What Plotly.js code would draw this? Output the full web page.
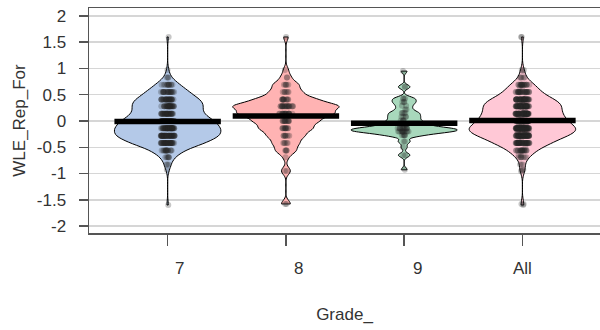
<!DOCTYPE html>
<html><head><meta charset="utf-8">
<script src="https://cdn.plot.ly/plotly-3.0.1.min.js"></script>
<style>html,body{margin:0;padding:0;overflow:hidden;background:#fff}#chart{width:603px;height:330px}</style>
</head><body><div id="chart"></div>
<script>
// ---- data ----
const categories = ['7', '8', '9', 'All'];
const yTickValues = [-2, -1.5, -1, -0.5, 0, 0.5, 1, 1.5, 2];
const yTickLabels = ['-2', '-1.5', '-1', '-0.5', '0', '0.5', '1', '1.5', '2'];

// WLE score levels and number of students at each level, per grade
const grade7Levels = [1.60, 0.97, 0.83, 0.69, 0.55, 0.41, 0.28, 0.14, 0.00, -0.14, -0.28, -0.42, -0.56, -0.69, -0.83, -0.93, -1.60];
const grade7Counts = [1, 1, 3, 12, 21, 30, 33, 33, 45, 51, 51, 36, 15, 6, 3, 1, 1];
const grade8Levels = [1.60, 0.97, 0.83, 0.69, 0.55, 0.41, 0.28, 0.14, 0.00, -0.14, -0.28, -0.42, -0.56, -0.69, -0.95, -1.58];
const grade8Counts = [1, 1, 2, 5, 6, 11, 20, 18, 12, 10, 7, 5, 4, 1, 2, 2];
const grade9Levels = [0.95, 0.65, 0.43, 0.36, 0.29, 0.22, 0.15, 0.08, 0.01, -0.06, -0.14, -0.20, -0.27, -0.39, -0.50, -0.65, -0.93];
const grade9Counts = [1, 2, 3, 3, 2, 2, 4, 4, 4, 6, 12, 12, 5, 2, 1, 2, 1];

// ---- build samples ----
function expand(levels, counts) {
  const out = [];
  levels.forEach((v, i) => { for (let k = 0; k < counts[i]; k++) out.push(v); });
  return out;
}
const grade7 = expand(grade7Levels, grade7Counts);
const grade8 = expand(grade8Levels, grade8Counts);
const grade9 = expand(grade9Levels, grade9Counts);
const allGrades = grade7.concat(grade8, grade9);
const groups = [grade7, grade8, grade9, allGrades];
const mean = a => a.reduce((s, v) => s + v, 0) / a.length;

// ---- styles ----
const fills = ['#b4c9e8', '#ffb3b3', '#a8d8bc', '#ffc8d6'];
const bandwidths = [0.09, 0.068, 0.04, 0.09];
const labelShift = [12, 13, 13, 0];
const FONT = 'Liberation Sans, Arial, sans-serif';
const FS = 17;

const traces = [];
groups.forEach((vals, i) => {
  traces.push({
    type: 'violin', orientation: 'v', x0: i, y: vals, name: categories[i],
    width: 0.9, scalemode: 'width', spanmode: 'hard', bandwidth: bandwidths[i],
    fillcolor: fills[i], line: {color: '#000', width: 1},
    points: 'all', pointpos: 0, jitter: 0.13,
    marker: {color: 'rgba(40,40,40,0.26)', size: 6, line: {width: 0}},
    box: {visible: false}, meanline: {visible: false},
    showlegend: false, hoverinfo: 'y'
  });
});
groups.forEach((vals, i) => {
  const m = mean(vals);
  traces.push({
    type: 'scatter', mode: 'lines', x: [i - 0.45, i + 0.45], y: [m, m],
    line: {color: '#000', width: 5.5}, showlegend: false, hoverinfo: 'skip'
  });
});

const annotations = categories.map((c, i) => ({
  text: c, x: i, xref: 'x', y: 0, yref: 'paper', xanchor: 'center', yanchor: 'middle',
  yshift: -35, xshift: labelShift[i], showarrow: false,
  font: {family: FONT, size: FS, color: '#333'}
}));

const layout = {
  width: 603, height: 330,
  margin: {l: 89, r: 1, t: 8, b: 97},
  paper_bgcolor: '#fff', plot_bgcolor: '#fff',
  font: {family: FONT, size: FS, color: '#333'},
  violinmode: 'overlay', showlegend: false,
  xaxis: {
    range: [-0.665, 3.656], tickvals: [0, 1, 2, 3], showticklabels: false,
    ticks: 'outside', ticklen: 11, tickwidth: 1.5, tickcolor: '#555',
    showline: true, linecolor: '#555', linewidth: 1.5, mirror: true,
    showgrid: false, zeroline: false,
    title: {text: 'Grade_', font: {family: FONT, size: FS, color: '#333'}, standoff: 63},
    automargin: true
  },
  yaxis: {
    range: [-2.133, 2.152], tickvals: yTickValues, ticktext: yTickLabels,
    ticks: 'outside', ticklen: 9, tickwidth: 1.5, tickcolor: '#555', ticklabelstandoff: 9,
    showline: true, linecolor: '#555', linewidth: 1.5, mirror: true,
    showgrid: true, gridcolor: '#d6d6d6', gridwidth: 1.5, zeroline: false,
    tickfont: {family: FONT, size: FS, color: '#333'},
    title: {text: 'WLE_Rep_For', font: {family: FONT, size: FS, color: '#333'}, standoff: 7},
    automargin: true
  },
  annotations: annotations
};

Plotly.newPlot('chart', traces, layout, {staticPlot: true, displayModeBar: false});
</script>
</body></html>
